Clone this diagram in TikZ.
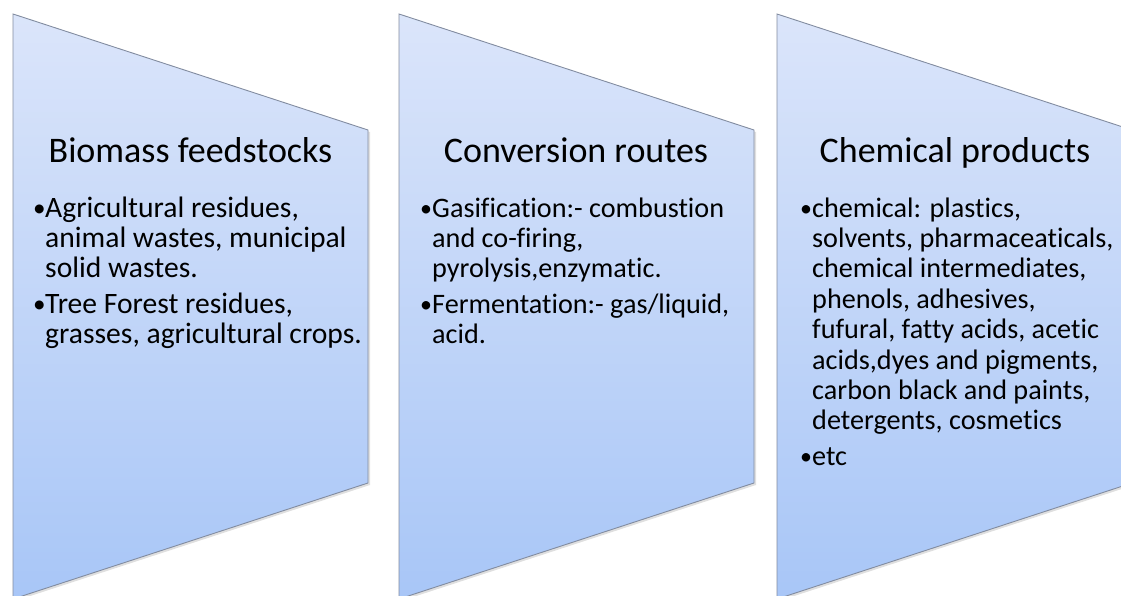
\documentclass[tikz,border=0pt]{standalone}
\usepackage{fontspec}
\setmainfont{Carlito}[Ligatures=NoCommon]
\usetikzlibrary{positioning,shadows}
\definecolor{PanelTop}{RGB}{219,229,250}
\definecolor{PanelBot}{RGB}{168,198,247}
\definecolor{PanelLine}{RGB}{130,140,160}
\newcommand{\bul}{\strut\makebox[12pt][l]{\scalebox{0.85}{\raisebox{1pt}{\textbullet}}}}
\newcommand{\ind}{\hspace*{12pt}}
\begin{document}
\begin{tikzpicture}[
    x=1pt,y=-1pt,
    panel/.style={draw=PanelLine,line width=0.9pt,top color=PanelTop,bottom color=PanelBot,
                  drop shadow={opacity=0.25,shadow xshift=2pt,shadow yshift=-2pt}},
    ttl/.style={anchor=base,inner sep=0pt,font=\fontsize{36}{43}\selectfont},
    body/.style={anchor=north west,align=left,inner sep=0pt,font=\fontsize{28.2}{30.4}\selectfont}
  ]
    \useasboundingbox (0,0) rectangle (1121,596);
    \clip (0,0) rectangle (1121,596);
    % the three panels
    \path[panel] (13,14) -- (368,130) -- (368,483) -- (13,599) -- cycle;
    \path[panel] (399,14) -- (754,130) -- (754,483) -- (399,599) -- cycle;
    \path[panel] (777,14) -- (1132,130) -- (1132,483) -- (777,599) -- cycle;
    % titles
    \node[ttl] (t1) at (190.5,163) {Biomass feedstocks};
    \node[ttl] (t2) at (576,163)   {Conversion routes};
    \node[ttl] (t3) at (955,163)   {Chemical products};
    % bullet lists (top of first strut = baseline 217 - 21.3)
    \node[body,font=\fontsize{29.6}{30.4}\selectfont] (b1) at (33,195.7)
      {\bul Agricultural residues,\\\ind animal wastes, municipal\\\ind solid wastes.\\[5pt]
      \bul Tree Forest residues,\\\ind grasses, agricultural crops.};
    \node[body] (b2) at (420,195.7) {\bul Gasification:- combustion\\\ind and co-firing,\\\ind pyrolysis,enzymatic.\\[5pt]
      \bul Fermentation:- gas/liquid,\\\ind acid.};
    \node[body] (b3) at (800,195.7) {\bul chemical: plastics,\\\ind solvents, pharmaceaticals,\\\ind chemical intermediates,\\
      \ind phenols, adhesives,\\\ind fufural, fatty acids, acetic\\\ind acids,dyes and pigments,\\
      \ind carbon black and paints,\\\ind detergents, cosmetics\\[5pt]\bul etc};
  \end{tikzpicture}
\end{document}
